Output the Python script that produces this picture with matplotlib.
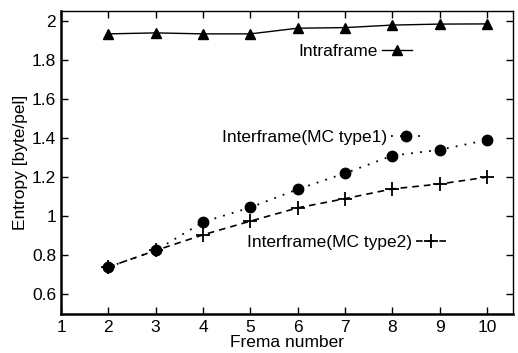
import matplotlib
matplotlib.use("Agg")
import matplotlib.pyplot as plt
from matplotlib.legend import Legend

plt.rcParams['font.family'] = ['Liberation Sans', 'DejaVu Sans']

frames = [2, 3, 4, 5, 6, 7, 8, 9, 10]
intraframe = [1.933, 1.938, 1.933, 1.933, 1.962, 1.965, 1.978, 1.983, 1.984]
mc_type1 = [0.74, 0.825, 0.97, 1.045, 1.138, 1.22, 1.31, 1.34, 1.39]
mc_type2 = [0.74, 0.825, 0.905, 0.975, 1.043, 1.09, 1.14, 1.165, 1.2]
xticks = [1, 2, 3, 4, 5, 6, 7, 8, 9, 10]
yticks = [0.6, 0.8, 1.0, 1.2, 1.4, 1.6, 1.8, 2.0]
yticklabels = ['0.6', '0.8', '1', '1.2', '1.4', '1.6', '1.8', '2']

FS = 12.5

fig = plt.figure(figsize=(5.18, 3.53), dpi=100)
ax = fig.add_axes([61/518, 1-314/353, (513-61)/518, (314-11)/353])

l1, = ax.plot(frames, intraframe, color='black', lw=1, marker='^', ms=7)
l2, = ax.plot(frames, mc_type1, color='black', lw=1.3, ls=(0, (1, 4)), marker='o', ms=7.5)
l3, = ax.plot(frames, mc_type2, color='black', lw=1.2, ls=(0, (4, 3)), marker='+', ms=10, mew=1.3)

ax.set_xlim(1, 10.55)
ax.set_ylim(0.5, 2.05)
ax.set_xticks(xticks)
ax.set_yticks(yticks)
ax.set_yticklabels(yticklabels)
ax.tick_params(direction='in', length=5, labelsize=FS, top=True, right=True, width=1)
ax.tick_params(axis='x', pad=4)
for s in ['left', 'bottom']:
    ax.spines[s].set_linewidth(1.8)
for s in ['top', 'right']:
    ax.spines[s].set_linewidth(1.0)
ax.set_xlabel('Frema number', fontsize=FS, labelpad=0)
ax.set_ylabel('Entropy [byte/pel]', fontsize=FS, labelpad=3)

def add_leg(handle, label, xy):
    leg = Legend(ax, [handle], [label], loc='center right', bbox_to_anchor=xy,
                 bbox_transform=fig.transFigure, frameon=False, markerfirst=False,
                 handlelength=1.72, handletextpad=0.25, numpoints=1, fontsize=FS,
                 borderpad=0, borderaxespad=0)
    ax.add_artist(leg)

add_leg(l1, 'Intraframe', (412/518, 1-51/353))
add_leg(l2, 'Interframe(MC type1)', (421/518, 1-137/353))
add_leg(l3, 'Interframe(MC type2)', (446/518, 1-242/353))

fig.savefig('out.png', dpi=100)
